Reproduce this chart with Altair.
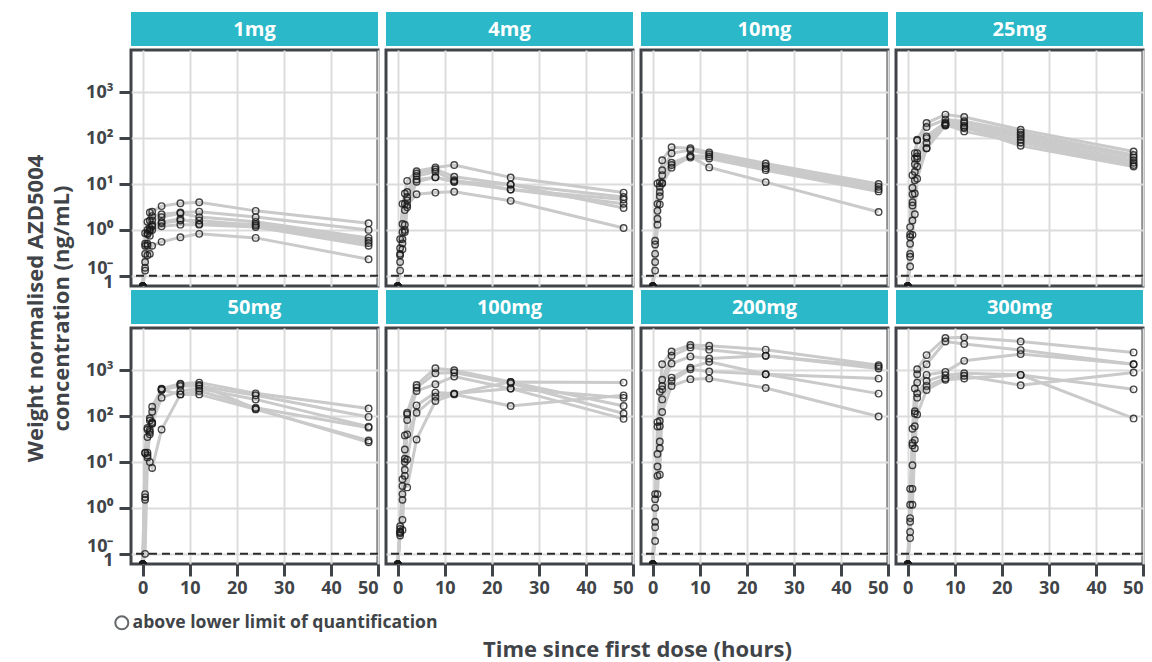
import altair as alt
import pandas as pd

# ---------------- data ----------------
DOSES = ["1mg", "4mg", "10mg", "25mg", "50mg", "100mg", "200mg", "300mg"]
TIMES = [0.5, 1, 1.5, 2, 4, 8, 12, 24, 48]
PREDOSE_TIME = 0
BLQ_PLOT = 0.06          # below-LLOQ samples are drawn on the bottom edge
LLOQ = 0.1
Y_TICKS = [0.1, 1, 10, 100, 1000]
X_TICKS = [0, 10, 20, 30, 40, 50]

c_1mg = [
    [0.85, 1.5, 2.4, 2.5, 3.3, 3.8, 4.0, 2.6, 1.4],
    [0.45, 1.0, 1.6, 2.0, 2.2, 2.4, 2.5, 1.9, 1.0],
    [0.30, 0.85, 1.0, 1.6, 1.9, 2.3, 1.9, 1.5, 0.67],
    [0.20, 0.5, 0.95, 1.2, 1.5, 1.75, 1.35, 1.35, 0.58],
    [0.15, 0.45, 0.75, 1.0, 1.2, 1.3, 1.3, 1.15, 0.45],
    [0.13, 0.28, 0.30, 0.45, 0.55, 0.69, 0.82, 0.67, 0.23],
    [0.50, 0.8, 1.1, 1.3, 1.4, 1.6, 1.6, 1.25, 0.52],
]
c_4mg = [
    [0.63, 3.7, 6.2, 11.7, 19, 23, 26, 13.9, 6.5],
    [0.28, 1.35, 3.7, 6.7, 17, 21, 14.4, 9.7, 5.2],
    [0.13, 0.9, 2.7, 5.2, 14.9, 18.5, 12.1, 7.6, 4.6],
    [0.40, 0.63, 1.3, 4.4, 12.5, 14, 11.2, 7.6, 3.7],
    [0.20, 0.51, 0.9, 3.1, 11.2, 14, 11.2, 9.7, 3.0],
    [0.30, 0.38, 1.0, 3.5, 6.0, 6.5, 6.8, 4.3, 1.1],
]
c_10mg = [
    [0.58, 10.3, 11, 33, 63, 60, 49, 28, 10],
    [0.48, 3.7, 8.7, 20, 46.8, 55, 44.5, 24.6, 8.7],
    [0.13, 2.6, 6.7, 15.6, 29, 41, 39.7, 21.9, 7.7],
    [0.30, 1.75, 5.4, 10.6, 26, 37.6, 36, 20, 6.9],
    [0.20, 1.3, 3.6, 10.3, 22.7, 40, 23, 11, 2.45],
]
c_25mg = [
    [1.15, 15.6, 47, 92, 214, 325, 288, 152, 51],
    [0.80, 8.3, 36, 89, 174, 253, 233, 133, 43],
    [0.50, 6.0, 27, 47, 109, 219, 214, 118, 38],
    [0.26, 3.4, 18.5, 36, 78, 205, 187, 105, 33],
    [0.16, 1.6, 6.2, 24, 60, 187, 166, 92, 29],
    [0.30, 0.78, 2.2, 13, 60, 200, 140, 80, 26],
    [0.70, 4.0, 12, 40, 100, 190, 175, 68, 24],
]
c_50mg = [
    [16, 55, 90, 160, 397, 510, 537, 313, 147],
    [15.6, 51, 80, 124, 372, 454, 454, 284, 96],
    [2.0, 35, 50, 74, 252, 354, 397, 231, 59],
    [1.5, 16, 40, 68, 372, 297, 354, 152, 56],
    [0.1, 12.6, 10, 7.4, 51, 297, 297, 140, 29.5],
    [1.7, 14, 45, 70, 390, 490, 480, 145, 27],
]
c_100mg = [
    [0.30, 4.2, 38, 118, 477, 1100, 1000, 555, 166],
    [0.28, 0.55, 18.7, 109, 417, 860, 890, 520, 114],
    [0.35, 0.33, 11.8, 82, 353, 494, 730, 397, 87],
    [0.30, 2.0, 6.8, 11.3, 171, 325, 309, 555, 537],
    [0.25, 1.5, 5.0, 2.8, 31, 213, 297, 166, 283],
    [0.40, 3.0, 10, 40, 118, 265, 309, 397, 250],
]
c_200mg = [
    [0.38, 74, 338, 1350, 2560, 3540, 3400, 2800, 1290],
    [0.19, 59, 78, 618, 2060, 3140, 2800, 2060, 1200],
    [2.0, 15, 60, 452, 1400, 1990, 1800, 2060, 1090],
    [1.55, 8, 28, 383, 690, 1140, 1520, 817, 657],
    [0.50, 5, 5.3, 231, 583, 1050, 935, 817, 309],
    [1.0, 2.0, 20, 123, 452, 637, 657, 410, 98],
]
c_300mg = [
    [0.22, 53, 398, 1050, 2130, 5040, 5200, 4230, 2440],
    [1.17, 26, 128, 817, 1350, 4230, 3710, 2740, 1350],
    [2.6, 23, 114, 537, 790, 920, 1600, 2240, 1350],
    [0.50, 8.5, 60, 313, 583, 780, 860, 790, 383],
    [0.30, 2.6, 30, 252, 455, 657, 755, 470, 890],
    [0.60, 1.17, 20, 109, 370, 618, 657, 790, 89],
]
CONC = dict(zip(DOSES, [c_1mg, c_4mg, c_10mg, c_25mg, c_50mg, c_100mg, c_200mg, c_300mg]))

ABOVE = "above lower limit of quantification"
rows = []
for dose, subjects in CONC.items():
    for i, vals in enumerate(subjects):
        sid = f"{dose}-{i}"
        rows.append(dict(dose=dose, subject=sid, time=PREDOSE_TIME, conc=BLQ_PLOT, status="blq"))
        for t, v in zip(TIMES, vals):
            rows.append(dict(dose=dose, subject=sid, time=t, conc=v, status=ABOVE))
df = pd.DataFrame(rows)

# ---------------- style ----------------
W, H, SH = 247, 236, 34
TEXT = "#404448"
BORDER = "#404448"
TEAL = "#2BB8C8"
GRID = "#DCDCDC"
FONT = "Open Sans"
XDOM = [-2.5, 50]
YDOM = [0.06, 8300]

Y_LABELS = ("datum.value < 0.5 ? ['10\u207b', '1'] : datum.value < 5 ? '10\u2070' : "
            "datum.value < 50 ? '10\u00b9' : datum.value < 500 ? '10\u00b2' : '10\u00b3'")


def strip(dose):
    s = alt.Chart(pd.DataFrame({"label": [dose]}))
    rect = s.mark_rect(color=TEAL).encode(
        x=alt.value(0), x2=alt.value(W), y=alt.value(0), y2=alt.value(SH))
    txt = s.mark_text(color="white", font=FONT, fontSize=20, fontWeight="bold",
                      baseline="middle", align="center").encode(
        text="label:N", x=alt.value(W / 2), y=alt.value(SH / 2 + 1))
    return alt.layer(rect, txt).properties(
        width=W, height=SH, view=alt.ViewBackground(stroke="transparent"))


def panel(idx):
    dose = DOSES[idx]
    r, c = divmod(idx, 4)
    left, bottom = c == 0, r == 1
    d = df[df.dose == dose]

    xa = dict(values=X_TICKS, grid=True, domain=False, ticks=bottom, labels=bottom,
              tickSize=12, tickWidth=3, tickColor=BORDER, labelPadding=3,
              title=None)
    if idx == 4:
        xa.update(title="Time since first dose (hours)", titleX=506, titleY=85,
                  titleAnchor="middle", titleAlign="center", titleBaseline="middle")
    ya = dict(values=Y_TICKS, grid=True, domain=False, ticks=left, labels=left,
              tickSize=12, tickWidth=3, tickColor=BORDER, labelPadding=6,
              labelExpr=Y_LABELS, labelLineHeight=14,
              labelOffset={"condition": {"test": "datum.value < 0.5", "value": -7},
                           "value": 0},
              title=None)
    if idx == 0:
        ya.update(title=["Weight normalised AZD5004", "concentration (ng/mL)"],
                  titleX=-96, titleY=258, titleAngle=270, titleAlign="center",
                  titleBaseline="middle", titleLineHeight=26)

    x = alt.X("time:Q", scale=alt.Scale(domain=XDOM, nice=False, zero=False),
              axis=alt.Axis(**xa))
    y = alt.Y("conc:Q", scale=alt.Scale(type="log", domain=YDOM, nice=False),
              axis=alt.Axis(**ya))

    base = alt.Chart(d)
    lines = base.mark_line(color="#CACACA", strokeWidth=3, clip=True).encode(
        x=x, y=y, detail="subject:N")
    rule = alt.Chart(pd.DataFrame({"conc": [LLOQ]})).mark_rule(
        color="#2a2a2a", strokeWidth=2, strokeDash=[8, 5]).encode(y=alt.Y("conc:Q"))
    enc = dict(x=x, y=y)
    if idx == 0:
        enc["shape"] = alt.Shape(
            "status:N", scale=alt.Scale(domain=[ABOVE], range=["circle"]),
            legend=alt.Legend(title=None, orient="none", legendX=-18, legendY=602,
                              symbolSize=170, symbolStrokeWidth=2,
                              symbolStrokeColor=TEXT, symbolFillColor="transparent",
                              labelFont=FONT, labelFontSize=17.6, labelFontWeight="bold",
                              labelColor=TEXT, labelOffset=2, labelLimit=600))
    pts = base.transform_filter(alt.datum.time > 0).mark_point(
        shape="circle", filled=False, color="#1a1a1a", size=42, strokeWidth=1.4,
        opacity=0.8, clip=True).encode(**enc)
    blq = base.transform_filter(alt.datum.time == 0).mark_point(
        shape="circle", filled=True, color="#1a1a1a", size=55, opacity=1,
        clip=True).encode(x=x, y=y)
    return alt.layer(lines, rule, pts, blq).properties(
        width=W, height=H,
        view=alt.ViewBackground(stroke=BORDER, strokeWidth=3))


items = ([strip(DOSES[i]) for i in range(4)] + [panel(i) for i in range(4)] +
         [strip(DOSES[i]) for i in range(4, 8)] + [panel(i) for i in range(4, 8)])

chart = alt.concat(
    *items, columns=4, spacing=alt.RowColnumber(row=4, column=8), bounds="flush"
).properties(
    padding={"left": 22, "top": 11, "right": 5, "bottom": 2},
).configure(
    font=FONT, background="white"
).configure_axis(
    labelFont=FONT, labelFontSize=18, labelFontWeight="bold", labelColor=TEXT,
    titleFont=FONT, titleFontSize=22, titleFontWeight="bold", titleColor=TEXT,
    gridColor=GRID, gridWidth=2,
)

chart.save("out.html", embed_options={"renderer": "svg", "actions": False})
